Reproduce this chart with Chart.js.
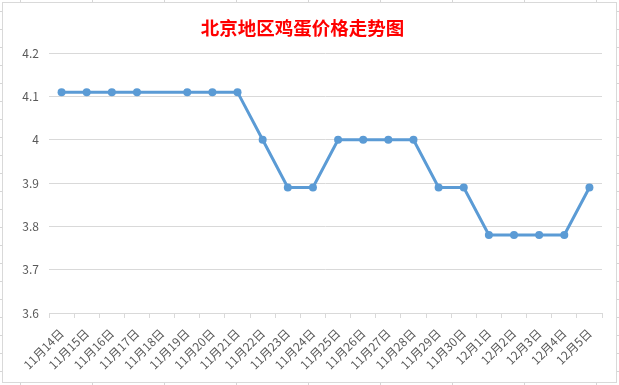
<!DOCTYPE html>
<html>
<head>
<meta charset="utf-8">
<script src="https://cdn.jsdelivr.net/npm/chart.js@4/dist/chart.umd.min.js"></script>
<style>
  html, body { margin: 0; padding: 0; }
  body {
    width: 619px; height: 385px; overflow: hidden; position: relative;
    background-color: #ffffff;
    background-image:
      repeating-linear-gradient(to right, transparent 0, transparent 20px, #d6d6d6 20px, #d6d6d6 21px, transparent 21px, transparent 72px),
      repeating-linear-gradient(to bottom, transparent 0, transparent 11px, #d6d6d6 11px, #d6d6d6 12px, transparent 12px, transparent 18px);
    background-size: 72px 100%, 100% 18px;
  }
  #box {
    position: absolute; left: 2px; top: 2px;
    width: 613px; height: 379px;
    border: 1px solid #d9d9d9; background: #ffffff;
  }
  #c { display: block; }
</style>
</head>
<body>
<div id="box"><canvas id="c" width="613" height="379"></canvas></div>
<script>
const chartTitle = "北京地区鸡蛋价格走势图";
const categories = ["11月14日","11月15日","11月16日","11月17日","11月18日","11月19日","11月20日","11月21日","11月22日","11月23日","11月24日","11月25日","11月26日","11月27日","11月28日","11月29日","11月30日","12月1日","12月2日","12月3日","12月4日","12月5日"];
const prices = [4.11,4.11,4.11,4.11,null,4.11,4.11,4.11,4.0,3.89,3.89,4.0,4.0,4.0,4.0,3.89,3.89,3.78,3.78,3.78,3.78,3.89];
const yMin = 3.6, yMax = 4.2, yStep = 0.1;

const FONT = '"Noto Sans CJK SC", "Noto Sans", sans-serif';
const TXT = '#595959';
const GRID = '#d9d9d9';

new Chart(document.getElementById('c'), {
  type: 'line',
  data: {
    labels: categories,
    datasets: [{
      data: prices,
      borderColor: '#5b9bd5',
      backgroundColor: '#5b9bd5',
      borderWidth: 3,
      pointRadius: 4,
      pointHoverRadius: 4,
      pointBorderWidth: 0,
      tension: 0,
      spanGaps: true,
      fill: false
    }]
  },
  options: {
    responsive: false,
    animation: false,
    layout: { padding: { left: 0, right: 14, top: 0, bottom: 0 } },
    plugins: {
      legend: { display: false },
      tooltip: { enabled: false },
      title: {
        display: true,
        text: chartTitle,
        color: '#ff0000',
        font: { family: FONT, size: 18.5, weight: 'bold' },
        padding: { top: 14, bottom: 14 }
      }
    },
    scales: {
      x: {
        offset: true,
        grid: { display: true, drawOnChartArea: false, drawTicks: true, tickLength: 5, color: GRID, offset: true },
        border: { display: true, color: GRID, width: 1 },
        ticks: {
          color: TXT, font: { family: FONT, size: 12 },
          minRotation: 45, maxRotation: 45, autoSkip: false, padding: 8
        },
        afterFit: (s) => { s.height = 69; }
      },
      y: {
        min: yMin, max: yMax,
        grid: { color: GRID, drawTicks: false },
        border: { display: false },
        ticks: {
          stepSize: yStep, color: TXT, font: { family: FONT, size: 12 }, padding: 10,
          callback: (v) => String(Math.round(v * 10) / 10)
        },
        afterFit: (s) => { s.width = 46; }
      }
    }
  }
});
</script>
</body>
</html>
